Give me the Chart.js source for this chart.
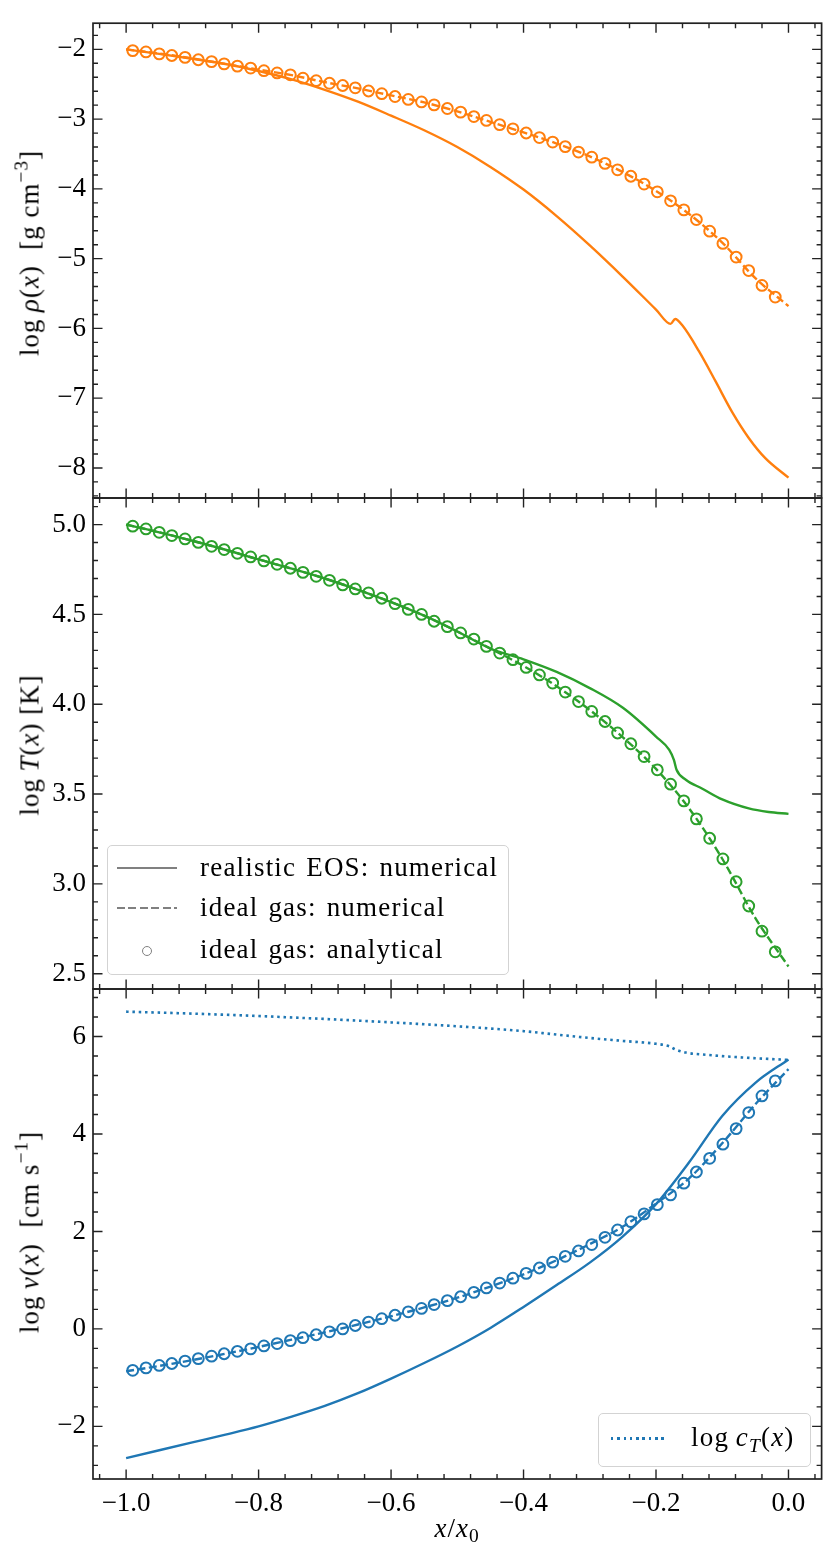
<!DOCTYPE html>
<html>
<head>
<meta charset="utf-8">
<script src="https://cdn.jsdelivr.net/npm/chart.js@4.4.0/dist/chart.umd.min.js"></script>
<style>
  body { margin: 0; background: #fff; }
  #wrap { position: relative; width: 830px; height: 1556px; font-family: 'Liberation Serif', 'Times New Roman', serif; color: #000; }
  canvas { position: absolute; left: 0; top: 0; }
  .txt { position: absolute; white-space: nowrap; line-height: 1; font-size: 27px; letter-spacing: 1px; }
  .ytitle { transform: translate(-50%, -50%) rotate(-90deg); }
  .xtitle { transform: translate(-50%, -50%); }
  .legend { position: absolute; border: 1px solid #d3d3d3; border-radius: 5px; background: rgba(255,255,255,0.85); box-sizing: border-box; }
  .h { position: absolute; height: 2.4px; }
  .solid { background: #808080; }
  .dashed { background: repeating-linear-gradient(90deg, #808080 0 8px, transparent 8px 11.5px); }
  .dotted { background: repeating-linear-gradient(90deg, #1f77b4 0 2.5px, transparent 2.5px 6.3px); height: 2.6px; }
  .ring { position: absolute; width: 10px; height: 10px; border: 1.8px solid #808080; border-radius: 50%; box-sizing: border-box; transform: translate(-50%, -50%); }
  .ltxt { letter-spacing: 1.2px; word-spacing: 2px; }
  sup { font-size: 0.72em; vertical-align: 0.55em; line-height: 0; }
  sub { font-size: 0.72em; vertical-align: -0.3em; line-height: 0; }
</style>
</head>
<body>
<div id="wrap">
  <canvas id="rho" width="830" height="1556"></canvas>
  <canvas id="temp" width="830" height="1556"></canvas>
  <canvas id="vel" width="830" height="1556"></canvas>

  <div class="txt ytitle" style="left:30px; top:253px;">log&thinsp;<i>ρ</i>(<i>x</i>)&nbsp;&nbsp;[g cm<sup>−3</sup>]</div>
  <div class="txt ytitle" style="left:30px; top:745px;">log&thinsp;<i>T</i>(<i>x</i>) [K]</div>
  <div class="txt ytitle" style="left:30px; top:1232px;">log&thinsp;<i>v</i>(<i>x</i>)&nbsp;&nbsp;[cm s<sup>−1</sup>]</div>
  <div class="txt xtitle" style="left:457px; top:1528px;"><i>x</i>/<i>x</i><sub>0</sub></div>

  <div class="legend" style="left:107px; top:845px; width:402px; height:130px;"></div>
  <div class="h solid" style="left:117px; top:867px; width:60px;"></div>
  <div class="h dashed" style="left:117px; top:907px; width:60px;"></div>
  <div class="ring" style="left:147px; top:951px;"></div>
  <div class="txt ltxt" style="left:200px; top:854px;">realistic EOS: numerical</div>
  <div class="txt ltxt" style="left:200px; top:894px;">ideal gas: numerical</div>
  <div class="txt ltxt" style="left:200px; top:936px;">ideal gas: analytical</div>

  <div class="legend" style="left:598px; top:1413px; width:213px; height:54px;"></div>
  <div class="h dotted" style="left:611px; top:1437px; width:57px;"></div>
  <div class="txt ltxt" style="left:691px; top:1424px;">log&thinsp;<i>c</i><sub><i>T</i></sub>(<i>x</i>)</div>
</div>

<script>
// ---- ticks ----
const xTicks = [-1.0, -0.8, -0.6, -0.4, -0.2, 0.0];
const xTickLabels = ['−1.0', '−0.8', '−0.6', '−0.4', '−0.2', '0.0'];
const rhoTicks = [-8, -7, -6, -5, -4, -3, -2];
const rhoTickLabels = ['−8', '−7', '−6', '−5', '−4', '−3', '−2'];
const tempTicks = [2.5, 3.0, 3.5, 4.0, 4.5, 5.0];
const tempTickLabels = ['2.5', '3.0', '3.5', '4.0', '4.5', '5.0'];
const velTicks = [-2, 0, 2, 4, 6];
const velTickLabels = ['−2', '0', '2', '4', '6'];

// ---- x grids ----
const xLine = [-1.0, -0.95, -0.9, -0.85, -0.8, -0.75, -0.7, -0.65, -0.6, -0.55, -0.5,
               -0.45, -0.4, -0.35, -0.3, -0.25, -0.2, -0.15, -0.1, -0.05, 0.0];
const xAna = [-0.990, -0.970, -0.950, -0.931, -0.911, -0.891, -0.871, -0.852, -0.832, -0.812,
              -0.792, -0.772, -0.752, -0.733, -0.713, -0.693, -0.673, -0.654, -0.634, -0.614,
              -0.594, -0.574, -0.554, -0.535, -0.515, -0.495, -0.475, -0.456, -0.436, -0.416,
              -0.396, -0.376, -0.356, -0.337, -0.317, -0.297, -0.277, -0.258, -0.238, -0.218,
              -0.198, -0.178, -0.158, -0.139, -0.119, -0.099, -0.079, -0.060, -0.040, -0.020];

// ---- density ----
const rhoRealX = [-1.0, -0.95, -0.9, -0.85, -0.8, -0.75, -0.7, -0.65, -0.6, -0.55, -0.5, -0.45, -0.4,
                  -0.35, -0.3, -0.25, -0.2, -0.178, -0.171, -0.16, -0.135, -0.11, -0.085, -0.06, -0.035, 0.0];
const rhoReal = [-2.00, -2.065, -2.135, -2.21, -2.31, -2.43, -2.58, -2.75, -2.95, -3.16, -3.40, -3.685, -4.01,
                 -4.39, -4.81, -5.26, -5.73, -5.935, -5.865, -5.96, -6.33, -6.76, -7.20, -7.57, -7.86, -8.14];
const rhoIdeal = [-2.00, -2.06, -2.13, -2.21, -2.29, -2.37, -2.47, -2.56, -2.66, -2.76, -2.89,
                  -3.04, -3.19, -3.35, -3.535, -3.76, -4.03, -4.36, -4.77, -5.28, -5.68];
const rhoAna = [-2.018, -2.037, -2.065, -2.088, -2.115, -2.149, -2.176, -2.208, -2.240, -2.268,
                -2.306, -2.338, -2.365, -2.413, -2.449, -2.486, -2.518, -2.551, -2.597, -2.635,
                -2.676, -2.718, -2.754, -2.796, -2.848, -2.900, -2.963, -3.019, -3.079, -3.139,
                -3.199, -3.264, -3.329, -3.394, -3.472, -3.546, -3.634, -3.727, -3.819, -3.931,
                -4.042, -4.171, -4.301, -4.440, -4.606, -4.782, -4.977, -5.171, -5.384, -5.551];

// ---- temperature ----
const tempRealX = [-1.0, -0.95, -0.9, -0.85, -0.8, -0.75, -0.7, -0.65, -0.6, -0.55, -0.5, -0.45, -0.4,
                   -0.35, -0.3, -0.25, -0.2, -0.18, -0.173, -0.169, -0.155, -0.13, -0.1, -0.06, -0.03, 0.0];
const tempReal = [5.00, 4.957, 4.91, 4.86, 4.806, 4.755, 4.70, 4.637, 4.569, 4.493, 4.405, 4.31, 4.25,
                  4.18, 4.09, 3.98, 3.82, 3.746, 3.69, 3.635, 3.58, 3.53, 3.47, 3.42, 3.40, 3.39];
const tempIdeal = [5.00, 4.957, 4.91, 4.86, 4.806, 4.755, 4.70, 4.637, 4.569, 4.493, 4.405,
                   4.31, 4.213, 4.10, 3.968, 3.816, 3.64, 3.42, 3.14, 2.81, 2.54];
const tempAna = [4.991, 4.976, 4.957, 4.939, 4.920, 4.901, 4.879, 4.861, 4.840, 4.820,
                 4.798, 4.779, 4.757, 4.734, 4.712, 4.690, 4.664, 4.642, 4.620, 4.590,
                 4.560, 4.528, 4.500, 4.462, 4.432, 4.397, 4.363, 4.322, 4.285, 4.248,
                 4.205, 4.163, 4.118, 4.068, 4.015, 3.960, 3.904, 3.840, 3.780, 3.709,
                 3.635, 3.555, 3.462, 3.362, 3.254, 3.139, 3.012, 2.877, 2.737, 2.622];

// ---- velocity ----
const velReal = [-2.65, -2.49, -2.33, -2.17, -2.00, -1.80, -1.58, -1.32, -1.02, -0.70, -0.36,
                 0.02, 0.45, 0.90, 1.36, 1.90, 2.56, 3.42, 4.37, 5.05, 5.53];
const velIdeal = [-0.87, -0.76, -0.64, -0.51, -0.37, -0.22, -0.07, 0.09, 0.26, 0.44, 0.64,
                  0.87, 1.12, 1.41, 1.74, 2.10, 2.57, 3.09, 3.81, 4.61, 5.33];
const velAna = [-0.85, -0.80, -0.75, -0.71, -0.66, -0.61, -0.56, -0.51, -0.46, -0.41,
                -0.35, -0.30, -0.24, -0.18, -0.12, -0.06, 0.00, 0.07, 0.14, 0.21,
                0.28, 0.35, 0.42, 0.50, 0.58, 0.66, 0.75, 0.84, 0.94, 1.04,
                1.14, 1.25, 1.37, 1.49, 1.60, 1.73, 1.88, 2.03, 2.20, 2.36,
                2.55, 2.75, 2.99, 3.22, 3.50, 3.79, 4.11, 4.44, 4.78, 5.09];
const soundX = [-1.0, -0.9, -0.8, -0.7, -0.6, -0.5, -0.4, -0.35, -0.3, -0.25, -0.2, -0.18, -0.17,
                -0.155, -0.12, -0.07, 0.0];
const soundSpeed = [6.51, 6.47, 6.42, 6.36, 6.29, 6.21, 6.11, 6.04, 5.97, 5.91, 5.85, 5.80, 5.73,
                    5.67, 5.62, 5.57, 5.52];

const ORANGE = '#ff7f0e', GREEN = '#2ca02c', BLUE = '#1f77b4';
const FONT = { family: "'Liberation Serif', 'Times New Roman', serif", size: 27 };

function pts(xs, ys) {
    return xs.map((x, i) => ({ x: x, y: ys[i] }));
}

function curve(xs, ys, color, dash, width) {
    return {
        data: pts(xs, ys), showLine: true, borderColor: color, borderWidth: width || 2.4,
        borderDash: dash || [], pointRadius: 0, cubicInterpolationMode: 'monotone', fill: false
    };
}

function rings(xs, ys, color) {
    return {
        data: pts(xs, ys), showLine: false, pointStyle: 'circle', pointRadius: 5.4,
        pointBorderWidth: 2, pointBorderColor: color, pointBackgroundColor: 'rgba(0,0,0,0)'
    };
}

// frame + inward ticks on all four sides
const frameTicks = {
    id: 'frameTicks',
    afterDraw(chart, args, opts) {
        const { ctx, chartArea: a } = chart;
        const sx = chart.scales.x, sy = chart.scales.y;
        const isMajor = (v, list) => list.some(m => Math.abs(m - v) < 1e-6);
        ctx.save();
        ctx.strokeStyle = '#222';
        ctx.lineWidth = 1.4;
        ctx.beginPath();
        // x ticks
        for (let k = Math.ceil(sx.min / opts.xStep - 1e-9); k * opts.xStep <= sx.max + 1e-9; k++) {
            const v = k * opts.xStep;
            const len = isMajor(v, opts.xMajor) ? 9.5 : 5;
            const px = sx.getPixelForValue(v);
            ctx.moveTo(px, a.bottom); ctx.lineTo(px, a.bottom - len);
            ctx.moveTo(px, a.top); ctx.lineTo(px, a.top + len);
        }
        // y ticks
        for (let k = Math.ceil(sy.min / opts.yStep - 1e-9); k * opts.yStep <= sy.max + 1e-9; k++) {
            const v = k * opts.yStep;
            const len = isMajor(v, opts.yMajor) ? 9.5 : 5;
            const py = sy.getPixelForValue(v);
            ctx.moveTo(a.left, py); ctx.lineTo(a.left + len, py);
            ctx.moveTo(a.right, py); ctx.lineTo(a.right - len, py);
        }
        ctx.stroke();
        ctx.lineWidth = 1.7;
        ctx.strokeRect(a.left, a.top, a.right - a.left, a.bottom - a.top);
        ctx.restore();
    }
};

function panel(id, cfg) {
    return new Chart(document.getElementById(id), {
        type: 'scatter',
        data: { datasets: cfg.datasets },
        options: {
            responsive: false,
            animation: false,
            events: [],
            layout: { padding: { top: cfg.padTop, bottom: cfg.padBottom, left: 0, right: 8.4 } },
            plugins: {
                legend: { display: false },
                tooltip: { enabled: false },
                frameTicks: { xMajor: xTicks, xStep: 0.04, yMajor: cfg.yTicks, yStep: cfg.yStep }
            },
            scales: {
                x: {
                    type: 'linear', min: -1.05, max: 0.05, display: cfg.showX,
                    grid: { display: false, drawTicks: false }, border: { display: false },
                    afterBuildTicks: s => { s.ticks = xTicks.map(v => ({ value: v })); },
                    afterFit: s => { s.height = cfg.showX ? 40 : 0; },
                    ticks: { font: FONT, color: '#000', padding: 9, maxRotation: 0, autoSkip: false,
                             callback: (v, i) => xTickLabels[i] }
                },
                y: {
                    type: 'linear', min: cfg.yMin, max: cfg.yMax,
                    grid: { display: false, drawTicks: false }, border: { display: false },
                    afterBuildTicks: s => { s.ticks = cfg.yTicks.map(v => ({ value: v })); },
                    afterFit: s => { s.width = 93; },
                    ticks: { font: FONT, color: '#000', padding: 7, autoSkip: false,
                             callback: (v, i) => cfg.yLabels[i] }
                }
            }
        },
        plugins: [frameTicks]
    });
}

panel('rho', {
    yMin: -8.431, yMax: -1.625, yTicks: rhoTicks, yLabels: rhoTickLabels, yStep: 0.2,
    padTop: 8, padBottom: 1556 - 498, showX: false,
    datasets: [
        rings(xAna, rhoAna, ORANGE),
        curve(xLine, rhoIdeal, ORANGE, [8, 3.5]),
        curve(rhoRealX, rhoReal, ORANGE)
    ]
});

panel('temp', {
    yMin: 2.415, yMax: 5.148, yTicks: tempTicks, yLabels: tempTickLabels, yStep: 0.1,
    padTop: 498, padBottom: 1556 - 989, showX: false,
    datasets: [
        rings(xAna, tempAna, GREEN),
        curve(xLine, tempIdeal, GREEN, [8, 3.5]),
        curve(tempRealX, tempReal, GREEN)
    ]
});

panel('vel', {
    yMin: -3.08, yMax: 6.975, yTicks: velTicks, yLabels: velTickLabels, yStep: 0.4,
    padTop: 989, padBottom: 37, showX: true,
    datasets: [
        rings(xAna, velAna, BLUE),
        curve(xLine, velIdeal, BLUE, [8, 3.5]),
        curve(xLine, velReal, BLUE),
        curve(soundX, soundSpeed, BLUE, [2.5, 3.8], 2.6)
    ]
});
</script>
</body>
</html>
